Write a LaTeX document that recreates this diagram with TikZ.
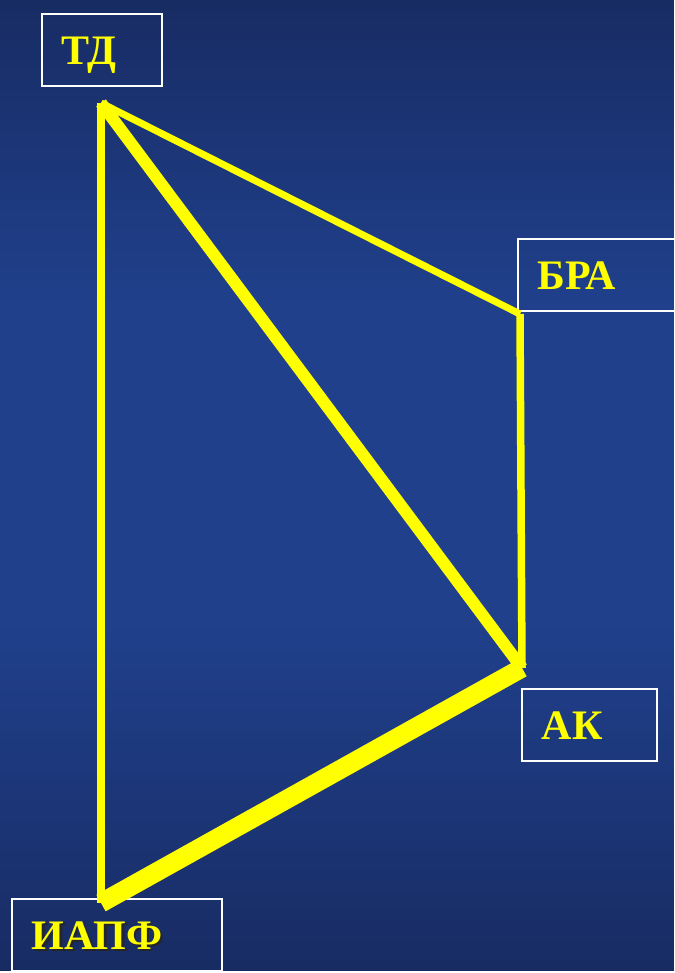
\documentclass[tikz,border=0pt]{standalone}
\usepackage{fontspec}
\setmainfont{Liberation Serif}
\usepackage{xcolor}
\usetikzlibrary{math}
\definecolor{bgtop}{RGB}{24,44,100}
\definecolor{bgmid}{RGB}{32,64,140}
\definecolor{bgbot}{RGB}{22,40,94}
\definecolor{lineyellow}{RGB}{255,255,0}
\newcommand{\shadowlabel}[1]{\makebox[0pt][l]{\hspace{2.5pt}\raisebox{-2.5pt}{\color{black!85}#1}}#1}
\tikzset{
labelbox/.style={draw=white, line width=1.6pt, inner xsep=20pt, inner ysep=0pt,
  minimum height=72pt, anchor=north west, align=left, text=lineyellow,
  text height=29pt, text depth=0pt, font=\fontsize{42}{48}\selectfont\bfseries},
edge/.style={draw=lineyellow, line cap=butt}
}

\begin{document}
\begin{tikzpicture}[x=1pt,y=-1pt]
\tikzmath{
\W=674;
\H=973;
}
\useasboundingbox (0,0) rectangle (\W,\H);
\clip (0,0) rectangle (\W,\H);

%background, in strips: lighter band in the middle
\foreach \i in {0,...,96}{
  \pgfmathsetmacro{\p}{\i<30 ? 100*\i/30 : (\i<62 ? 100 : 100*(96-\i)/34)}
  \fill[color=bgmid!\p!bgtop] (0,\i*10) rectangle (\W,\i*10+10.5);
}

\coordinate (td) at (101,103);%corners of the figure
\coordinate (bra) at (520,314);
\coordinate (ak) at (522,668);
\coordinate (iapf) at (101,903);

%boxes
\node[labelbox, text width=80pt] (tdbox) at (41,13) {ТД};
\node[labelbox, text width=120pt] (brabox) at (517,238) {БРА};
\node[labelbox, text width=95pt] (akbox) at (521,688) {АК};
\node[labelbox, text width=170pt] (iapfbox) at (11,898) {\shadowlabel{ИАПФ}};

%edges
\draw[edge, line width=8pt] (td) -- (iapf);
\draw[edge, line width=7pt] (td) -- (bra);
\draw[edge, line width=12pt] (td) -- (ak);
\draw[edge, line width=7.5pt] (bra) -- (ak);
\draw[edge, line width=19pt] (ak) -- (iapf);
\end{tikzpicture}
\end{document}
